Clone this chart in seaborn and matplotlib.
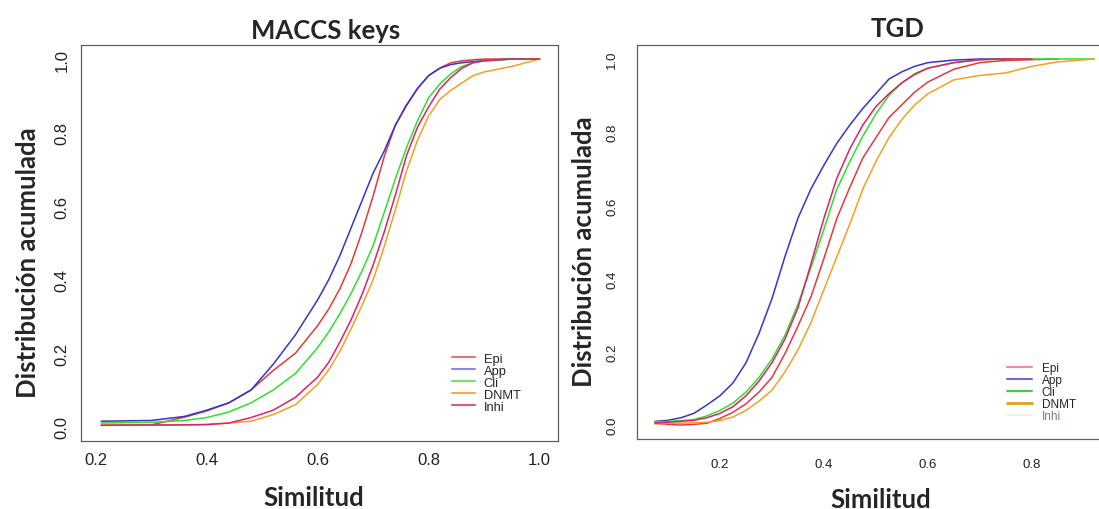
import matplotlib
matplotlib.use("Agg")
import matplotlib.pyplot as plt
import numpy as np
import pandas as pd
import seaborn as sns
from matplotlib.lines import Line2D

# ---- data (cumulative distribution curves) ----
series_names = ["Epi", "App", "Cli", "DNMT", "Inhi"]

# MACCS keys panel
maccs_x = [0.21, 0.30, 0.36, 0.40, 0.44, 0.48, 0.52, 0.56, 0.60, 0.62, 0.64, 0.66, 0.68,
           0.70, 0.72, 0.74, 0.76, 0.78, 0.80, 0.82, 0.84, 0.86, 0.88, 0.90, 0.95, 1.00]
maccs_epi = [0.004, 0.005, 0.026, 0.043, 0.065, 0.10, 0.153, 0.20, 0.275, 0.32, 0.375, 0.443, 0.53,
             0.628, 0.735, 0.82, 0.873, 0.92, 0.955, 0.975, 0.99, 0.995, 0.998, 1.0, 1.0, 1.0]
maccs_app = [0.015, 0.017, 0.028, 0.045, 0.065, 0.10, 0.17, 0.25, 0.345, 0.40, 0.465, 0.54, 0.615,
             0.69, 0.75, 0.82, 0.875, 0.92, 0.955, 0.975, 0.985, 0.99, 0.993, 0.996, 1.0, 1.0]
maccs_cli = [0.01, 0.012, 0.017, 0.025, 0.04, 0.065, 0.10, 0.145, 0.215, 0.258, 0.307, 0.362, 0.424,
             0.493, 0.583, 0.674, 0.759, 0.832, 0.895, 0.932, 0.96, 0.98, 0.99, 0.995, 1.0, 1.0]
maccs_dnmt = [0.004, 0.004, 0.005, 0.006, 0.01, 0.015, 0.033, 0.06, 0.115, 0.155, 0.205, 0.265, 0.33,
              0.40, 0.49, 0.59, 0.695, 0.78, 0.845, 0.89, 0.915, 0.935, 0.955, 0.965, 0.98, 1.0]
maccs_inhi = [0.004, 0.005, 0.005, 0.006, 0.01, 0.025, 0.045, 0.08, 0.135, 0.175, 0.23, 0.29, 0.36,
              0.44, 0.53, 0.63, 0.737, 0.815, 0.87, 0.918, 0.95, 0.975, 0.99, 0.995, 1.0, 1.0]

# TGD panel
tgd_x = [0.075, 0.10, 0.125, 0.15, 0.175, 0.20, 0.225, 0.25, 0.275, 0.30, 0.325, 0.35, 0.375, 0.40,
         0.425, 0.45, 0.475, 0.50, 0.525, 0.55, 0.575, 0.60, 0.65, 0.70, 0.75, 0.80, 0.85, 0.92]
tgd_epi = [0.005, 0.002, 0.0, 0.002, 0.005, 0.018, 0.035, 0.058, 0.09, 0.13, 0.195, 0.27, 0.35, 0.455,
           0.565, 0.65, 0.73, 0.785, 0.84, 0.875, 0.91, 0.937, 0.972, 0.99, 0.996, 0.998, 1.0, np.nan]
tgd_app = [0.01, 0.013, 0.02, 0.032, 0.055, 0.08, 0.115, 0.17, 0.25, 0.345, 0.46, 0.565, 0.645, 0.71,
           0.77, 0.82, 0.865, 0.905, 0.945, 0.965, 0.98, 0.99, 0.997, 1.0, 1.0, np.nan, np.nan, np.nan]
tgd_cli = [0.008, 0.01, 0.012, 0.015, 0.025, 0.04, 0.06, 0.09, 0.13, 0.18, 0.245, 0.33, 0.43, 0.535,
           0.645, 0.72, 0.79, 0.85, 0.90, 0.935, 0.96, 0.975, 0.99, 0.998, 1.0, 1.0, 1.0, 1.0]
tgd_dnmt = [0.003, 0.005, 0.005, 0.006, 0.008, 0.012, 0.022, 0.04, 0.065, 0.095, 0.145, 0.205, 0.28, 0.37,
            0.46, 0.55, 0.645, 0.72, 0.785, 0.835, 0.875, 0.905, 0.943, 0.955, 0.962, 0.98, 0.992, 1.0]
tgd_inhi = [0.005, 0.008, 0.01, 0.013, 0.02, 0.032, 0.05, 0.08, 0.12, 0.17, 0.235, 0.32, 0.44, 0.565,
            0.675, 0.755, 0.82, 0.87, 0.905, 0.935, 0.958, 0.975, 0.99, 0.998, 1.0, 1.0, np.nan, np.nan]

y_ticks = [0.0, 0.2, 0.4, 0.6, 0.8, 1.0]
maccs_xticks = [0.2, 0.4, 0.6, 0.8, 1.0]
tgd_xticks = [0.2, 0.4, 0.6, 0.8]

line_colors = ["#e23a3c", "#3535c8", "#2fe02f", "#f4a020", "#e0206c"]
legend_colors_maccs = ["#e07878", "#8a8ae0", "#6ee46e", "#f2b04c", "#e050a0"]
legend_colors_tgd = ["#f28a98", "#6a6ae0", "#3cd03c", "#e0a020", "#f6eef2"]

sns.set_style("white")
plt.rcParams["font.family"] = ["Liberation Sans", "DejaVu Sans"]
label_font = dict(family=["Lato", "DejaVu Sans"], weight="bold", size=18.5)


def make_frame(x, cols):
    df = pd.DataFrame({"x": x})
    for name, vals in zip(series_names, cols):
        df[name] = vals
    return df


def draw_panel(ax, df, xlim, xticks, tick_size, pad):
    for name, color in zip(series_names, line_colors):
        sub = df[["x", name]].dropna()
        sns.lineplot(data=sub, x="x", y=name, ax=ax, color=color, lw=1.1,
                     estimator=None, sort=False, legend=False)
    ax.set_xlim(*xlim)
    ax.set_ylim(-0.038, 1.039)
    ax.set_xticks(xticks)
    ax.set_xticklabels([f"{t:.1f}" for t in xticks])
    ax.set_yticks(y_ticks)
    ax.set_yticklabels([f"{t:.1f}" for t in y_ticks], rotation=90, va="center")
    ax.set_xlabel("")
    ax.set_ylabel("")
    ax.tick_params(direction="out", length=5, width=0.8, color="#555555",
                   labelsize=tick_size, labelcolor="#222222", pad=pad)
    for sp in ax.spines.values():
        sp.set_color("#606060")
        sp.set_linewidth(0.9)


fig = plt.figure(figsize=(10.99, 5.10), dpi=100)
ax1 = fig.add_axes([0.0734, 0.1339, 0.4343, 0.7765])
ax2 = fig.add_axes([0.5796, 0.1373, 0.4331, 0.7731])

maccs_df = make_frame(maccs_x, [maccs_epi, maccs_app, maccs_cli, maccs_dnmt, maccs_inhi])
tgd_df = make_frame(tgd_x, [tgd_epi, tgd_app, tgd_cli, tgd_dnmt, tgd_inhi])

draw_panel(ax1, maccs_df, (0.173, 1.033), maccs_xticks, 12, 3)
draw_panel(ax2, tgd_df, (0.0404, 0.956), tgd_xticks, 9.5, 8.5)

# legends (no frame, tight rows as in R)
h1 = [Line2D([], [], color=c, lw=1.5) for c in legend_colors_maccs]
ax1.legend(h1, series_names, loc="upper left", bbox_to_anchor=(0.778, 0.222),
           frameon=False, borderpad=0, borderaxespad=0, handlelength=1.75,
           handletextpad=0.7, labelspacing=0.0, fontsize=9.3)

h2 = [Line2D([], [], color=c, lw=2.0 if n == "DNMT" else 1.5)
      for c, n in zip(legend_colors_tgd, series_names)]
leg2 = ax2.legend(h2, series_names, loc="upper left", bbox_to_anchor=(0.777, 0.194),
                  frameon=False, borderpad=0, borderaxespad=0, handlelength=2.1,
                  handletextpad=0.85, labelspacing=0.0, fontsize=8.5)
leg2.get_texts()[-1].set_color("#7a7a9a")

W, H = 1099, 510
fig.text(326 / W, 1 - 31 / H, "MACCS keys", ha="center", va="center", **label_font)
fig.text(898 / W, 1 - 29 / H, "TGD", ha="center", va="center", **label_font)
fig.text(314 / W, 1 - 498 / H, "Similitud", ha="center", va="center", **label_font)
fig.text(881 / W, 1 - 500 / H, "Similitud", ha="center", va="center", **label_font)
fig.text(28 / W, 1 - 263 / H, "Distribución acumulada", ha="center", va="center",
         rotation=90, **label_font)
fig.text(584 / W, 1 - 252 / H, "Distribución acumulada", ha="center", va="center",
         rotation=90, **label_font)

fig.savefig("out.png", dpi=100)
